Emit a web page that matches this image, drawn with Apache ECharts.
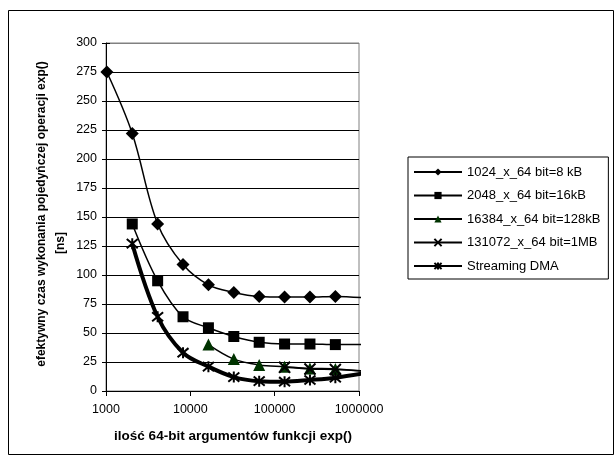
<!DOCTYPE html>
<html>
<head>
<meta charset="utf-8">
<script src="https://cdn.jsdelivr.net/npm/echarts@6/dist/echarts.min.js"></script>
<style>html,body{margin:0;padding:0;background:#fff;}#c{width:616px;height:463px;}</style>
</head>
<body>
<div id="c"></div>
<script>
// ---- data ----
const xValues = [1024, 2048, 4096, 8192, 16384, 32768, 65536, 131072, 262144, 524288];
const tailX = 1300000; // the curves continue a little past the right edge of the plot
const seriesNames = ['1024_x_64 bit=8 kB', '2048_x_64 bit=16kB', '16384_x_64 bit=128kB', '131072_x_64 bit=1MB', 'Streaming DMA'];
const s1 = [275, 222, 144, 109, 91.5, 85, 81.5, 81, 81, 81.5];
const s2 = [null, 144, 95, 64, 54.5, 47, 42, 40.5, 40.5, 40];
const s3 = [null, null, null, null, 40, 27.5, 22.5, 21, 19.5, 19];
const s4 = [null, null, null, null, null, null, null, 20.5, 19, 18.5];
const s5 = [null, 127, 64, 33, 21, 12, 8.5, 8, 9.5, 11.5];
const tails = [80, 40, 16.5, 17, 16];
const yTicks = [0, 300, 25];
const xTicks = [1000, 1000000];

const FONT = 'Liberation Sans, Arial, sans-serif';

function build(vals, tail) {
  const d = [];
  vals.forEach((v, i) => { if (v !== null) d.push([xValues[i], v]); });
  d.push({ value: [tailX, tail], symbol: 'none' });
  return d;
}

const X_PATH = 'path://M0,0L10,10M10,0L0,10';
const AST_PATH = 'path://M0,0L10,10M10,0L0,10M5,-1L5,11';

const markerDefs = [
  { symbol: 'diamond', size: 13, item: { color: '#000' }, width: 1.5 },
  { symbol: 'rect', size: 11, item: { color: '#000' }, width: 1.5 },
  { symbol: 'triangle', size: 12, item: { color: '#003300' }, width: 1.5 },
  { symbol: X_PATH, size: 11, item: { color: 'rgba(0,0,0,0)', borderColor: '#000', borderWidth: 2 }, width: 1.5 },
  { symbol: AST_PATH, size: 11, item: { color: 'rgba(0,0,0,0)', borderColor: '#000', borderWidth: 2 }, width: 4 }
];
const allVals = [s1, s2, s3, s4, s5];

const series = allVals.map((vals, k) => ({
  name: seriesNames[k],
  type: 'line',
  smooth: 0.35,
  clip: false,
  data: build(vals, tails[k]),
  symbol: markerDefs[k].symbol,
  symbolSize: markerDefs[k].size,
  showAllSymbol: true,
  itemStyle: markerDefs[k].item,
  lineStyle: { color: '#000', width: markerDefs[k].width },
  emphasis: { disabled: true },
  z: 2 + k
}));

const splitColors = [];
for (let v = yTicks[0]; v <= yTicks[1]; v += yTicks[2]) splitColors.push(v === yTicks[1] ? '#808080' : '#000');

const chart = echarts.init(document.getElementById('c'), null, { renderer: 'canvas' });
chart.setOption({
  animation: false,
  backgroundColor: '#fff',
  textStyle: { fontFamily: FONT },
  grid: { left: 106, right: 257, top: 43, bottom: 72, show: true, borderColor: '#808080', borderWidth: 1, backgroundColor: 'transparent' },
  xAxis: {
    type: 'log', logBase: 10, min: xTicks[0], max: xTicks[1],
    axisLine: { lineStyle: { color: '#000', width: 1 } },
    axisTick: { show: true, length: 5, lineStyle: { color: '#000' } },
    minorTick: { show: false },
    splitLine: { show: false },
    axisLabel: { color: '#000', fontSize: 12.5, fontFamily: FONT, margin: 12, formatter: v => String(Math.round(v)) }
  },
  yAxis: [{
    type: 'value', min: yTicks[0], max: yTicks[1], interval: yTicks[2],
    axisLine: { show: true, lineStyle: { color: '#000', width: 1 } },
    axisTick: { show: true, length: 4, lineStyle: { color: '#000' } },
    splitLine: { show: true, lineStyle: { color: splitColors, width: 1 } },
    axisLabel: { color: '#000', fontSize: 12.5, fontFamily: FONT, margin: 9 }
  }, {
    type: 'value', min: yTicks[0], max: yTicks[1], interval: yTicks[2], position: 'left',
    axisLine: { show: false },
    axisTick: { show: true, inside: true, length: 4, lineStyle: { color: '#000' } },
    splitLine: { show: false },
    axisLabel: { show: false }
  }],
  legend: {
    orient: 'vertical', left: 408, top: 157,
    itemWidth: 48, itemHeight: 9, itemGap: 7.5,
    padding: [7, 8, 5, 5],
    borderColor: '#000', borderWidth: 1, backgroundColor: '#fff',
    textStyle: { color: '#000', fontSize: 13, fontFamily: FONT, lineHeight: 16 },
    data: seriesNames
  },
  graphic: [
    { type: 'rect', shape: { x: 8.5, y: 10.5, width: 605, height: 444 }, style: { fill: 'none', stroke: '#000', lineWidth: 1 }, silent: true },
    { type: 'text', x: 42, y: 214, rotation: Math.PI / 2, style: { text: 'efektywny czas wykonania pojedyńczej operacji exp()', font: 'bold 12px ' + FONT, fill: '#000', align: 'center', verticalAlign: 'middle' } },
    { type: 'text', x: 61, y: 243, rotation: Math.PI / 2, style: { text: '[ns]', font: 'bold 12px ' + FONT, fill: '#000', align: 'center', verticalAlign: 'middle' } },
    { type: 'text', x: 233, y: 436, style: { text: 'ilość 64-bit argumentów funkcji exp()', font: 'bold 13.5px ' + FONT, fill: '#000', align: 'center', verticalAlign: 'middle' } }
  ],
  series: series
});
</script>
</body>
</html>
